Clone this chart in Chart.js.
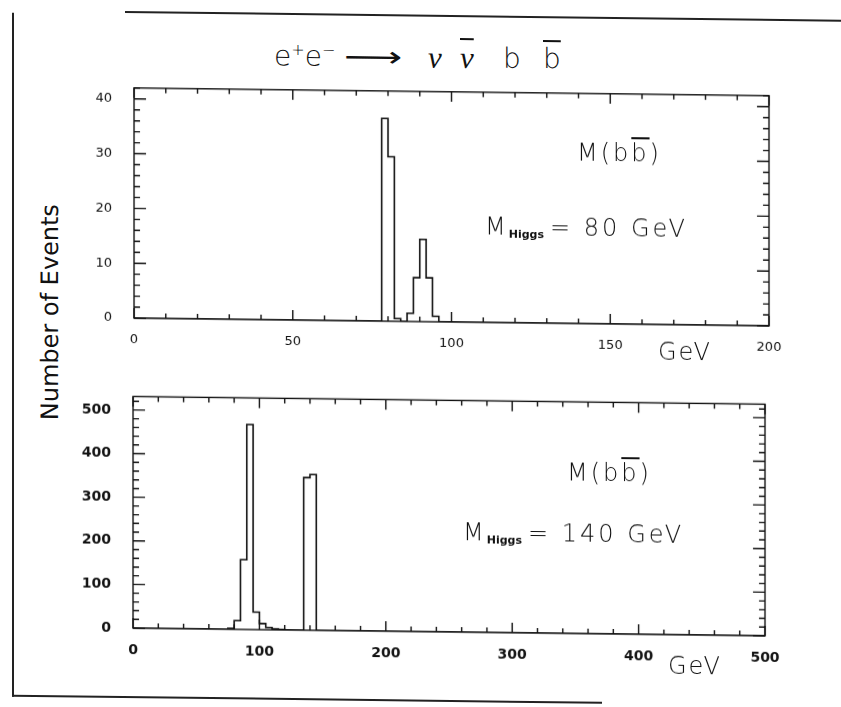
<!DOCTYPE html>
<html>
<head>
<meta charset="utf-8">
<script src="https://cdn.jsdelivr.net/npm/chart.js@4.4.1/dist/chart.umd.min.js"></script>
<style>
  html, body { margin: 0; padding: 0; background: #fff; overflow: hidden; }
  #page { position: relative; width: 841px; height: 707px; font-family: "DejaVu Sans", sans-serif; font-weight: 200; color: #111;
          transform: skewY(0.7deg); transform-origin: 451px 0; }
  canvas { position: absolute; }
  .txt { position: absolute; white-space: nowrap; line-height: 1; }
  .ov { text-decoration: overline; text-decoration-thickness: 1.5px; }
  .line { position: absolute; background: #222; }
  sub.h { font-size: 11px; font-weight: bold; vertical-align: -3px; letter-spacing: 0; margin-right: 6px; }
  .tt { position: absolute; top: 44px; font-size: 28px; line-height: 1; }
  .nu { font-family: "Liberation Serif", serif; font-style: italic; font-weight: normal; font-size: 31px; }
  .ann { font-size: 24px; letter-spacing: 3px; }
</style>
</head>
<body>
<div id="page">
  <div class="line" style="left:125px; top:15px; width:716px; height:1.5px"></div>
  <div class="line" style="left:12px; top:18px; width:1.5px; height:684px"></div>
  <div class="line" style="left:12px; top:700px; width:590px; height:1.5px"></div>

  <!-- title -->
  <span class="tt" style="left:274px">e<sup style="font-size:16px">+</sup>e<sup style="font-size:16px">−</sup></span>
  <span class="tt" style="left:344px; transform: scaleX(1.45); transform-origin: 0 50%">⟶</span>
  <span class="tt nu" style="left:428px; top:42px">ν</span>
  <span class="tt nu ov" style="left:460px; top:42px">ν</span>
  <span class="tt" style="left:503px">b</span>
  <span class="tt ov" style="left:543px">b</span>

  <div class="txt" style="top:317px; left:50px; font-size:24px; font-weight:normal; transform: translate(-50%, -50%) rotate(-90deg);">Number of Events</div>

  <canvas id="topChart" width="720" height="300" style="left:70px; top:70px"></canvas>
  <canvas id="lowChart" width="720" height="300" style="left:70px; top:378px"></canvas>

  <div class="txt ann" style="left:577px; top:139px">M(b<span class="ov">b</span>)</div>
  <div class="txt ann" style="left:485px; top:214px">M<sub class="h">Higgs</sub>= 80 GeV</div>
  <div class="txt" style="left:658px; top:337px; font-size:24px; letter-spacing:2px">GeV</div>

  <div class="txt ann" style="left:567px; top:459px">M(b<span class="ov">b</span>)</div>
  <div class="txt ann" style="left:463px; top:520px">M<sub class="h">Higgs</sub>= 140 GeV</div>
  <div class="txt" style="left:668px; top:651px; font-size:24px; letter-spacing:2px">GeV</div>
</div>

<script>
// M(bb) histograms, bin lower edges (GeV) and events per bin
const topMass   = [0, 76, 78, 80, 82, 84, 86, 88, 90, 92, 94, 96, 200];
const topEvents = [0, 0, 37, 30, 0.5, 0, 1.5, 8, 15, 8, 1, 0, 0];
const topXTicks = [0, 50, 100, 150, 200];
const topYTicks = [0, 10, 20, 30, 40];

const lowMass   = [0, 75, 80, 85, 90, 95, 100, 105, 110, 115, 120, 135, 140, 145, 500];
const lowEvents = [0, 2, 20, 160, 470, 40, 14, 5, 2, 1, 0, 350, 357, 0, 0];
const lowXTicks = [0, 100, 200, 300, 400, 500];
const lowYTicks = [0, 100, 200, 300, 400, 500];

// box + inward ticks on all four sides
const innerTicks = {
  id: 'innerTicks',
  afterDatasetsDraw(chart, args, o) {
    const { ctx, chartArea: a, scales: { x, y } } = chart;
    ctx.save();
    ctx.strokeStyle = '#111';
    ctx.lineWidth = 1.4;
    ctx.strokeRect(a.left, a.top, a.width, a.height);
    ctx.beginPath();
    for (let v = x.min; v <= x.max + 1e-6; v += o.xStep) {
      const px = x.getPixelForValue(v);
      const len = Math.abs(v % o.xMajor) < 1e-6 ? 10 : 5;
      ctx.moveTo(px, a.bottom); ctx.lineTo(px, a.bottom - len);
      ctx.moveTo(px, a.top); ctx.lineTo(px, a.top + len);
    }
    for (let v = 0; v <= y.max + 1e-6; v += o.yStep) {
      const py = y.getPixelForValue(v);
      const len = Math.abs(v % o.yMajor) < 1e-6 ? 12 : 6;
      ctx.moveTo(a.left, py); ctx.lineTo(a.left + len, py);
      ctx.moveTo(a.right, py); ctx.lineTo(a.right - len, py);
    }
    ctx.stroke();
    ctx.restore();
  }
};

function histChart(id, mass, events, xTicks, yTicks, xMax, yMax, lay, tk, font) {
  new Chart(document.getElementById(id), {
    type: 'line',
    data: {
      datasets: [{
        data: mass.map((m, i) => ({ x: m, y: events[i] })),
        stepped: 'before',
        borderColor: '#111',
        borderWidth: 1.6,
        pointRadius: 0,
        fill: false
      }]
    },
    options: {
      responsive: false,
      animation: false,
      devicePixelRatio: 1,
      layout: { padding: lay.pad },
      scales: {
        x: {
          type: 'linear', min: 0, max: xMax,
          afterBuildTicks: s => { s.ticks = xTicks.map(v => ({ value: v })) },
          afterFit: s => { s.height = lay.xh },
          grid: { display: false },
          border: { display: false },
          ticks: { color: '#111', font: font, padding: 6, maxRotation: 0, autoSkip: false }
        },
        y: {
          type: 'linear', min: 0, max: yMax,
          afterBuildTicks: s => { s.ticks = yTicks.map(v => ({ value: v })) },
          afterFit: s => { s.width = lay.yw },
          grid: { display: false },
          border: { display: false },
          ticks: { color: '#111', font: font, padding: 14 }
        }
      },
      plugins: {
        legend: { display: false },
        tooltip: { enabled: false },
        innerTicks: tk
      }
    },
    plugins: [innerTicks]
  });
}

histChart('topChart', topMass, topEvents, topXTicks, topYTicks, 200, 42,
  { pad: { top: 14, right: 21, bottom: 0, left: 0 }, xh: 48, yw: 64 },
  { xStep: 10, xMajor: 50, yStep: 2, yMajor: 10 },
  { family: 'DejaVu Sans', size: 13 });

histChart('lowChart', lowMass, lowEvents, lowXTicks, lowYTicks, 500, 531,
  { pad: { top: 14, right: 25, bottom: 0, left: 0 }, xh: 46, yw: 63 },
  { xStep: 20, xMajor: 100, yStep: 20, yMajor: 100 },
  { family: 'DejaVu Sans', size: 14, weight: 'bold' });
</script>
</body>
</html>
